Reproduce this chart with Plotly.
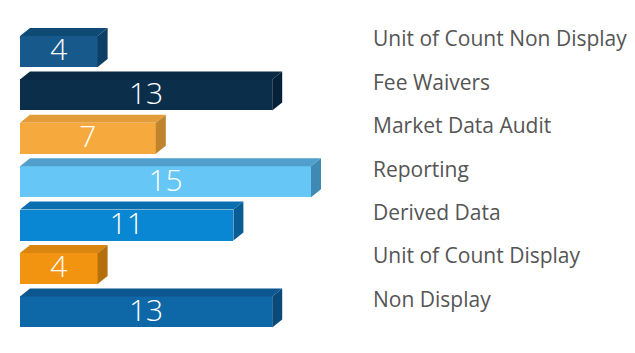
import plotly.graph_objects as go

categories = ["Unit of Count Non Display", "Fee Waivers", "Market Data Audit",
              "Reporting", "Derived Data", "Unit of Count Display", "Non Display"]
values = [4, 13, 7, 15, 11, 4, 13]
front_colors = ["#17598b", "#0b2e4b", "#f6aa3d", "#66c6f6", "#0a87d2", "#f39410", "#0e67a6"]
top_colors = ["#0f4a74", "#0a2944", "#e39d38", "#519fcc", "#0a6fb1", "#d98510", "#0c5790"]
side_colors = ["#0c3f63", "#07213a", "#c1842e", "#3f89b3", "#085d94", "#b5700e", "#0a4a7b"]

W, H = 635, 353
x0_px, px_per_unit = 20, 19.4
y0_px, px_per_row = 51.5, 43.4
bar_h = 0.714
dx = 10 / px_per_unit
dy = 8 / px_per_row

xr = [-x0_px / px_per_unit, (W - x0_px) / px_per_unit]
yr = [(H - y0_px) / px_per_row, -y0_px / px_per_row]

fig = go.Figure()
ys = list(range(len(values)))

for i, v in enumerate(values):
    top = i - bar_h / 2
    bot = i + bar_h / 2
    fig.add_trace(go.Scatter(
        x=[0, v, v + dx, dx, 0], y=[top, top, top - dy, top - dy, top],
        fill="toself", fillcolor=top_colors[i], mode="lines",
        line=dict(width=0, color=top_colors[i]), hoverinfo="skip", showlegend=False))
    fig.add_trace(go.Scatter(
        x=[v, v + dx, v + dx, v, v], y=[top, top - dy, bot - dy, bot, top],
        fill="toself", fillcolor=side_colors[i], mode="lines",
        line=dict(width=0, color=side_colors[i]), hoverinfo="skip", showlegend=False))

fig.add_trace(go.Bar(
    x=values, y=ys, orientation="h", width=bar_h,
    marker=dict(color=front_colors, line=dict(width=0)),
    hoverinfo="skip", showlegend=False))

fig.add_trace(go.Scatter(
    x=[v / 2 for v in values], y=[y + 0.03 for y in ys], mode="text", text=[str(v) for v in values],
    textfont=dict(family="Open Sans", size=30, color="white", weight=300),
    hoverinfo="skip", showlegend=False))

for i, c in enumerate(categories):
    fig.add_annotation(
        x=371 / W, xref="paper", y=i - 0.3, yref="y", text=c, showarrow=False,
        xanchor="left", yanchor="middle",
        font=dict(family="Open Sans", size=21, color="#555555"))

fig.update_layout(
    width=W, height=H, margin=dict(l=0, r=0, t=0, b=0),
    plot_bgcolor="white", paper_bgcolor="white",
    xaxis=dict(range=xr, visible=False, fixedrange=True),
    yaxis=dict(range=yr, visible=False, fixedrange=True),
    bargap=0,
)

fig.write_html("out.html")
